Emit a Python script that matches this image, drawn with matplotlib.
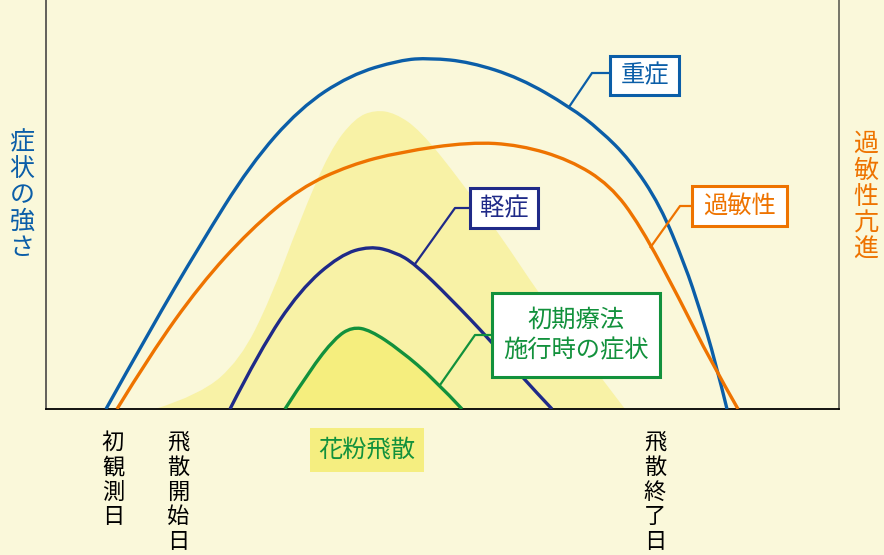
import matplotlib.pyplot as plt
from matplotlib.path import Path
from matplotlib.patches import PathPatch, Rectangle

plt.rcParams['font.family'] = ['Noto Sans CJK JP', 'DejaVu Sans']

# curve points (x: time position, y: height above baseline)
severe_x = [106, 150, 200, 250, 300, 350, 400, 430, 470, 520, 570, 600, 630, 660, 685, 700, 715, 727]
severe_y = [0, 79, 164, 244, 301, 334, 349, 351, 347, 331, 302, 279, 249, 204, 144, 99, 49, 0]

hyper_x = [117, 150, 200, 250, 300, 350, 400, 470, 520, 570, 610, 640, 680, 710, 738]
hyper_y = [0, 54, 124, 179, 221, 244, 257, 267, 264, 249, 224, 184, 109, 49, 0]

mild_x = [230, 260, 300, 340, 370, 395, 415, 450, 490, 520, 552]
mild_y = [0, 59, 119, 154, 163, 157, 145, 111, 69, 34, 0]

early_x = [285, 310, 335, 352, 370, 400, 435, 462]
early_y = [0, 39, 71, 82, 79, 59, 29, 0]

pollen_x = [155, 200, 240, 270, 300, 330, 355, 375, 395, 420, 460, 500, 540, 580, 625]
pollen_y = [0, 14, 49, 109, 189, 259, 291, 299, 296, 279, 229, 174, 114, 59, 0]

date_labels = ['初観測日', '飛散開始日', '飛散終了日']
date_x = [113, 178, 655]

BG = '#faf8da'
BLUE = '#0b5ea8'
ORANGE = '#ee7300'
NAVY = '#1f2a88'
GREEN = '#12913c'


def smooth_path(xs, ys, close=False):
    pts = list(zip(xs, ys))
    verts = [pts[0]]
    codes = [Path.MOVETO]
    for i in range(1, len(pts) - 1):
        mid = ((pts[i][0] + pts[i + 1][0]) / 2, (pts[i][1] + pts[i + 1][1]) / 2)
        if i == len(pts) - 2:
            mid = pts[-1]
        verts += [pts[i], mid]
        codes += [Path.CURVE3, Path.CURVE3]
    if close:
        verts.append(pts[0])
        codes.append(Path.CLOSEPOLY)
    return Path(verts, codes)


fig = plt.figure(figsize=(8.84, 5.55), dpi=100, facecolor=BG)
ax = fig.add_axes([46 / 884, 146 / 555, 793 / 884, 409 / 555])
ax.set_facecolor(BG)
ax.set_xlim(46, 839)
ax.set_ylim(0, 409)
ax.set_xticks([])
ax.set_yticks([])
ax.spines['top'].set_visible(False)
ax.spines['left'].set_color('#555550')
ax.spines['right'].set_color('#6b6b60')
ax.spines['bottom'].set_color('black')
for s in ('left', 'right', 'bottom'):
    ax.spines[s].set_linewidth(1.3)

# pollen and early-therapy shading
ax.add_patch(PathPatch(smooth_path(pollen_x, pollen_y, close=True), fc='#f8f2a6', ec='none', zorder=1))
ax.add_patch(PathPatch(smooth_path(early_x, early_y, close=True), fc='#f5ee7e', ec='none', zorder=2))

for xs, ys, c in [(severe_x, severe_y, BLUE), (hyper_x, hyper_y, ORANGE),
                  (mild_x, mild_y, NAVY), (early_x, early_y, GREEN)]:
    ax.add_patch(PathPatch(smooth_path(xs, ys), fc='none', ec=c, lw=2.4, zorder=3,
                           capstyle='butt'))


def label_box(x0, y0, w, h, text, color, leader):
    ax.plot(*zip(*leader), color=color, lw=1.6, zorder=4, solid_capstyle='butt')
    ax.add_patch(Rectangle((x0, y0), w, h, fc='white', ec=color, lw=2.2, zorder=5))
    ax.text(x0 + w / 2, y0 + h / 2, text, color=color, fontsize=17.5, ha='center',
            va='center', zorder=6, linespacing=1.25)


label_box(610, 409 - 95, 69, 39, '重症', BLUE, [(610, 336), (592, 336), (569, 302)])
label_box(692, 409 - 226, 95, 40, '過敏性', ORANGE, [(692, 203), (680, 203), (650, 161)])
label_box(470, 409 - 228, 68, 40, '軽症', NAVY, [(470, 201), (455, 201), (415, 145)])
label_box(492, 409 - 377, 168, 84, '初期療法\n施行時の症状', GREEN, [(492, 74), (475, 74), (440, 24)])

ax.text(367, -41, '花粉飛散', color=GREEN, fontsize=17.5, ha='center', va='center',
        bbox=dict(boxstyle='square,pad=0.35', fc='#f5ee80', ec='none'))

for lab, x in zip(date_labels, date_x):
    ax.text(x, -22, '\n'.join(lab), color='black', fontsize=16, ha='center', va='top',
            linespacing=1.1, clip_on=False)

fig.text(22 / 884, 1 - 195 / 555, '\n'.join('症状の強さ'), color=BLUE, fontsize=18,
         ha='center', va='center', linespacing=1.02)
fig.text(866 / 884, 1 - 197 / 555, '\n'.join('過敏性亢進'), color=ORANGE, fontsize=18,
         ha='center', va='center', linespacing=1.02)

fig.savefig('out.png', dpi=100, facecolor=BG)
